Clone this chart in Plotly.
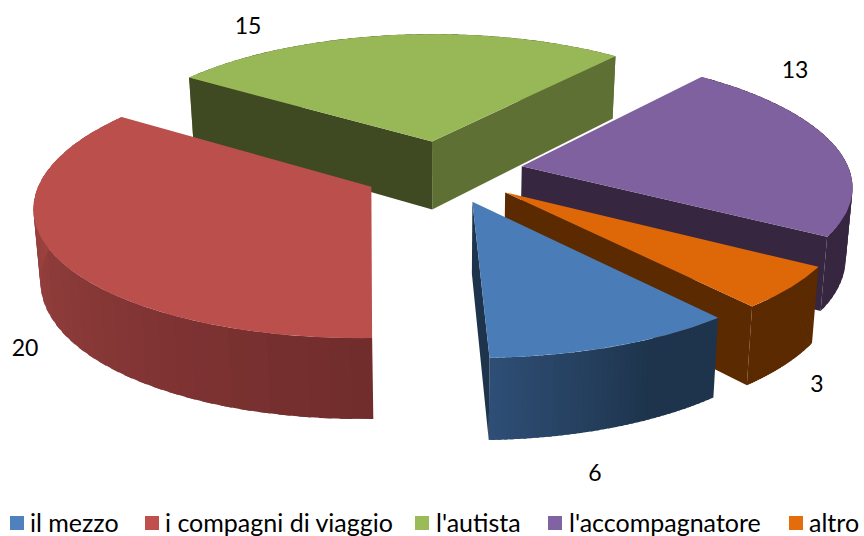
import math
import plotly.graph_objects as go

categories = ["il mezzo", "i compagni di viaggio", "l'autista", "l'accompagnatore", "altro"]
values = [6, 20, 15, 13, 3]

top_colors = ["#4A7DB8", "#BA4F4C", "#98B857", "#7F619F", "#DE6808"]
legend_colors = ["#4F81BD", "#C0504D", "#9BBB59", "#8064A2", "#E46C0A"]
rim_near_end = ["#2F4F76", "#A94A47", "#5F7035", "#362640", "#5C2A00"]   # colour at last angle
rim_near_start = ["#1E344D", "#702C2C", "#5F7035", "#362640", "#5C2A00"]  # colour at first angle
start_wall = [None, None, "#3F4A22", None, None]
end_wall = ["#1E344D", None, "#5F7035", "#362640", "#5C2A00"]
draw_order = [2, 3, 4, 0, 1]

label_x = [595, 25, 248, 795, 817]
label_y = [475, 350, 28, 72, 386]
legend_x = [17, 152, 422, 555, 796]
legend_text_x = [30, 165, 436, 569, 809]
legend_y = 523
legend_text_y = 526

START = 140.3
CX, CY = 443.0, 171.5
EXPLODE = 0.245
AX, AY = 328.0, 128.0
PX, PY = 0.135, 0.127
STRIPS = 40


def project(X, Y):
    return CX + AX * X / (1 + PX * Y), CY - AY * Y / (1 + PY * Y)


def bottom_of(p):
    depth = 68.0 + (p[1] - 140.0) * 0.065
    return CX + (p[0] - CX) * 0.983, p[1] + depth


def mix(c1, c2, f):
    a = [int(c1[i:i + 2], 16) for i in (1, 3, 5)]
    b = [int(c2[i:i + 2], 16) for i in (1, 3, 5)]
    return "rgb(%d,%d,%d)" % tuple(round(u + (v - u) * f) for u, v in zip(a, b))


fig = go.Figure()


def poly(points, color):
    xs = [p[0] for p in points] + [points[0][0]]
    ys = [p[1] for p in points] + [points[0][1]]
    fig.add_trace(go.Scatter(x=xs, y=ys, mode="lines", fill="toself", fillcolor=color,
                             line=dict(color=color, width=0), hoverinfo="skip", showlegend=False))


total = sum(values)
spans = []
t = START
for v in values:
    spans.append((t, t + v / total * 360.0))
    t = spans[-1][1]

for i in draw_order:
    t0, t1 = spans[i]
    mid = math.radians((t0 + t1) / 2)
    ax, ay = EXPLODE * math.sin(mid), EXPLODE * math.cos(mid)

    def pt(deg):
        a = math.radians(deg)
        return project(ax + math.sin(a), ay + math.cos(a))

    apex = project(ax, ay)
    # outer rim as shaded strips, each overlapping the next
    for k in range(STRIPS):
        a = t0 + (t1 - t0) * k / STRIPS
        b = t0 + (t1 - t0) * min(k + 1.6, STRIPS) / STRIPS
        pa, pb = pt(a), pt(b)
        f = (k + 0.5) / STRIPS
        if i == 0:
            f = min(1.0, max(0.0, (f - 0.35) / 0.65))
        poly([pa, pb, bottom_of(pb), bottom_of(pa)], mix(rim_near_start[i], rim_near_end[i], f))
    # straight walls
    if start_wall[i]:
        p = pt(t0)
        poly([apex, p, bottom_of(p), bottom_of(apex)], start_wall[i])
    if end_wall[i]:
        p = pt(t1)
        poly([apex, p, bottom_of(p), bottom_of(apex)], end_wall[i])
    # top face
    arc = [pt(t0 + (t1 - t0) * k / 80) for k in range(81)]
    poly([apex] + arc, top_colors[i])

fig.add_trace(go.Scatter(x=label_x, y=label_y, mode="text", text=[str(v) for v in values],
                         textposition="middle center", textfont=dict(family="Lato", size=23, color="#000000"),
                         hoverinfo="skip", showlegend=False))

for name, color, lx, tx in zip(categories, legend_colors, legend_x, legend_text_x):
    fig.add_trace(go.Scatter(x=[lx], y=[legend_y], mode="markers", name=name,
                             marker=dict(symbol="square", size=14, color=color),
                             hoverinfo="skip", showlegend=False, cliponaxis=False))
    fig.add_trace(go.Scatter(x=[tx], y=[legend_text_y], mode="text", name=name, text=[name],
                             textposition="middle right",
                             textfont=dict(family="Lato", size=25, color="#000000"),
                             hoverinfo="skip", showlegend=False, cliponaxis=False))

fig.update_layout(
    width=864, height=536, margin=dict(l=0, r=0, t=0, b=0),
    paper_bgcolor="#FFFFFF", plot_bgcolor="#FFFFFF", showlegend=False,
    xaxis=dict(range=[0, 864], visible=False, fixedrange=True),
    yaxis=dict(range=[536, 0], visible=False, fixedrange=True),
)

fig.write_html("out.html", config=dict(displayModeBar=False),
               post_script="document.body.style.margin='0';")
